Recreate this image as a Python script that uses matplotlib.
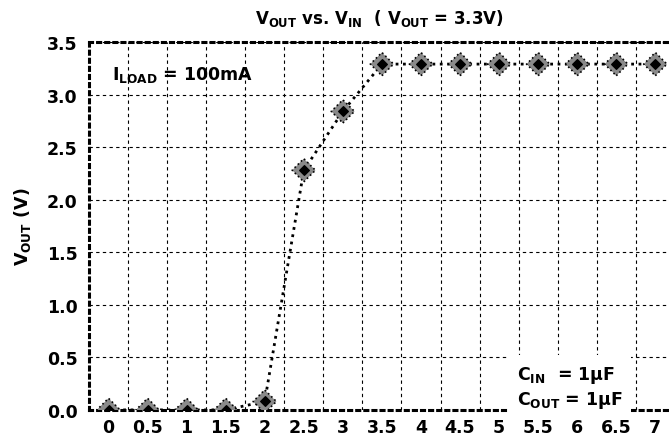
import matplotlib
matplotlib.use('Agg')
import matplotlib.pyplot as plt
import numpy as np

plt.rcParams['font.family'] = ['DejaVu Sans']
plt.rcParams['font.weight'] = 'bold'
plt.rcParams['mathtext.fontset'] = 'custom'
plt.rcParams['mathtext.rm'] = 'DejaVu Sans:bold'
plt.rcParams['mathtext.it'] = 'DejaVu Sans:bold'
plt.rcParams['mathtext.bf'] = 'DejaVu Sans:bold'

# data: V_IN categories and measured V_OUT
vin_labels = ['0', '0.5', '1', '1.5', '2', '2.5', '3', '3.5', '4', '4.5', '5', '5.5', '6', '6.5', '7']
vout = [0.0, 0.0, 0.0, 0.0, 0.08, 2.28, 2.84, 3.29, 3.29, 3.29, 3.29, 3.29, 3.29, 3.29, 3.29]
yticks = [0.0, 0.5, 1.0, 1.5, 2.0, 2.5, 3.0, 3.5]

fig = plt.figure(figsize=(6.69, 4.39), dpi=100)
fig.set_facecolor('w')
ax = fig.add_axes([0.133, 0.064, 0.867, 0.838])

x = np.arange(len(vin_labels))

# grid: vertical lines between categories, horizontal at y ticks
ax.set_xticks(x)
ax.set_xticklabels(vin_labels, fontweight='bold')
ax.set_xticks(x[:-1] + 0.5, minor=True)
ax.set_yticks(yticks)
ax.set_yticklabels(['%.1f' % v for v in yticks], fontweight='bold')
ax.grid(True, which='minor', axis='x', color='k', linestyle=(0, (3, 3)), linewidth=0.8)
ax.grid(True, which='major', axis='y', color='k', linestyle=(0, (3, 3)), linewidth=0.8)
ax.tick_params(which='both', length=0, labelsize=12.5, pad=8)
ax.tick_params(axis='x', pad=6)

ax.plot(x, vout, color='k', linestyle=':', linewidth=2.0, zorder=3)
ax.scatter(x, vout, marker='D', s=140, facecolor='#8a8a8a', edgecolor='k',
           linewidth=1.2, linestyle=':', zorder=4, clip_on=True)
ax.scatter(x, vout, marker='D', s=24, color='k', zorder=5, clip_on=True)

ax.set_xlim(-0.5, 14.35)
ax.set_ylim(0, 3.5)

for side in ['left', 'top', 'bottom']:
    ax.spines[side].set_linestyle(':')
    ax.spines[side].set_linewidth(2.2)
ax.spines['right'].set_visible(False)

ax.set_title(r'$\mathrm{V_{OUT}}$ vs. $\mathrm{V_{IN}}$  ( $\mathrm{V_{OUT}}$ = 3.3V)',
             fontsize=12, fontweight='bold', pad=14)
ax.set_ylabel(r'$\mathrm{V_{OUT}}$ (V)', fontsize=12.5, fontweight='bold', labelpad=10)

ax.text(0.1, 3.2, r'$\mathrm{I_{LOAD}}$ = 100mA', fontsize=12.5, fontweight='bold',
        va='center', ha='left', zorder=6)
ax.text(10.45, 0.22, '$\\mathrm{C_{IN}}$  = 1\u03bcF\n$\\mathrm{C_{OUT}}$ = 1\u03bcF',
        fontsize=12.5, fontweight='bold', va='center', ha='left', linespacing=1.3, zorder=6,
        bbox=dict(facecolor='white', edgecolor='none', pad=6))

fig.savefig('out.png', dpi=100)
